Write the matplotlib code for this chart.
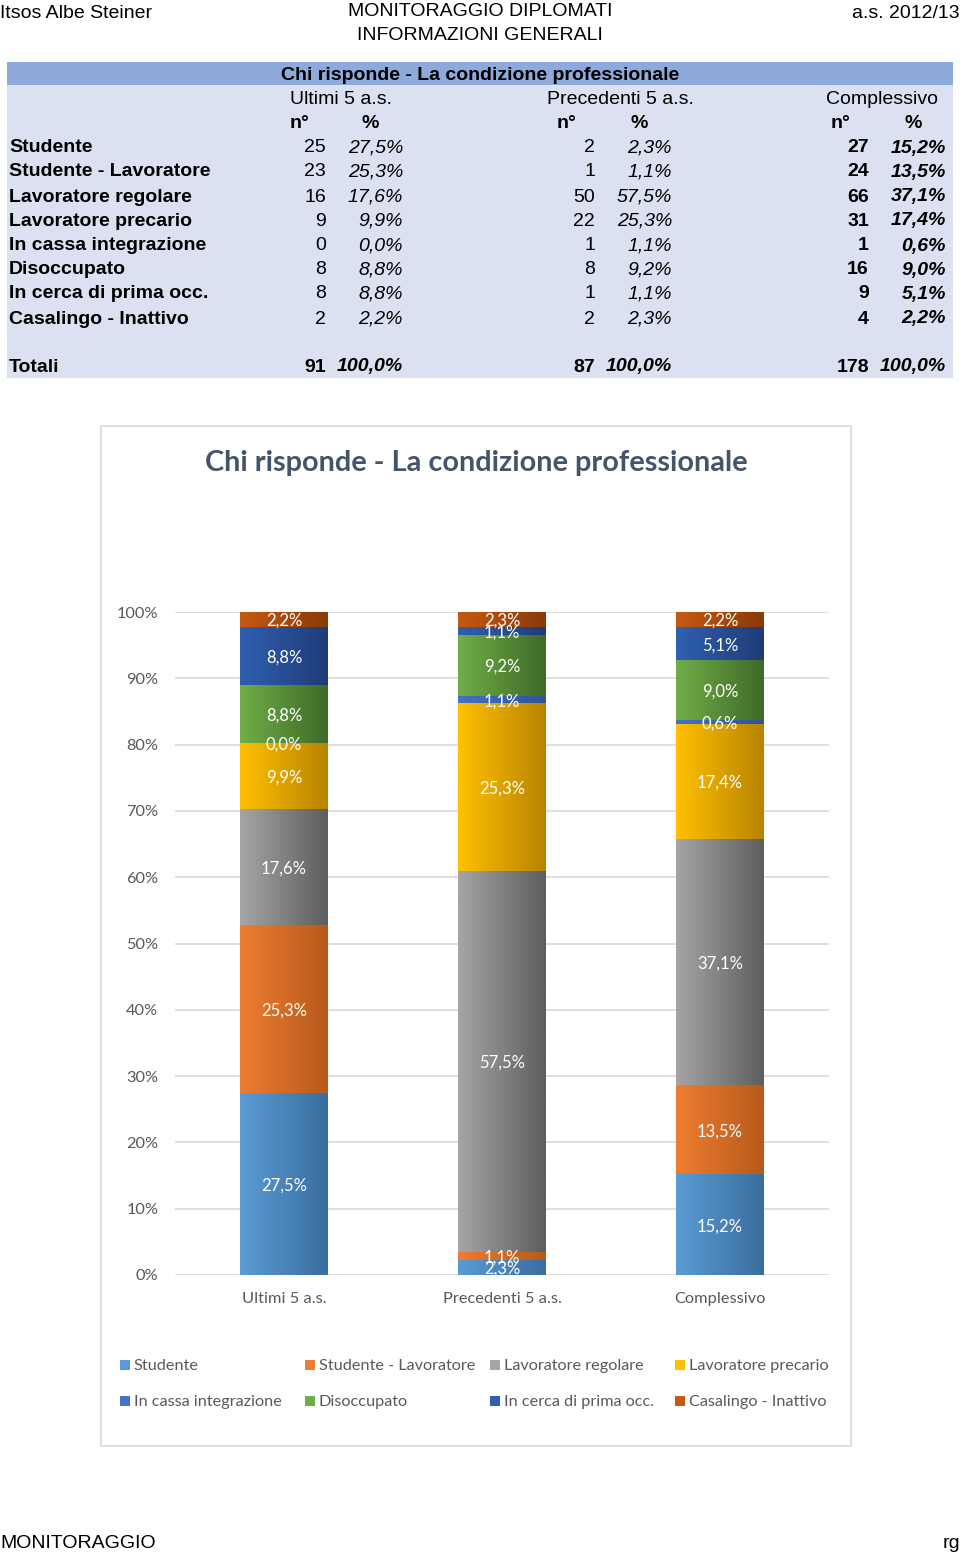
import numpy as np
import matplotlib
matplotlib.use("Agg")
import matplotlib.pyplot as plt
from matplotlib.patches import Rectangle

# ----------------------------
# Dati
# ----------------------------
categorie = ["Studente", "Studente - Lavoratore", "Lavoratore regolare", "Lavoratore precario",
             "In cassa integrazione", "Disoccupato", "In cerca di prima occ.", "Casalingo - Inattivo"]
gruppi = ["Ultimi 5 a.s.", "Precedenti 5 a.s.", "Complessivo"]

n_ultimi = [25, 23, 16, 9, 0, 8, 8, 2]
n_precedenti = [2, 1, 50, 22, 1, 8, 1, 2]
n_complessivo = [27, 24, 66, 31, 1, 16, 9, 4]

pct_ultimi = ["27,5%", "25,3%", "17,6%", "9,9%", "0,0%", "8,8%", "8,8%", "2,2%"]
pct_precedenti = ["2,3%", "1,1%", "57,5%", "25,3%", "1,1%", "9,2%", "1,1%", "2,3%"]
pct_complessivo = ["15,2%", "13,5%", "37,1%", "17,4%", "0,6%", "9,0%", "5,1%", "2,2%"]

totali_n = [91, 87, 178]
totali_pct = ["100,0%", "100,0%", "100,0%"]

# colori (sinistra chiaro, destra scuro come il gradiente di Excel)
colori = ["#5B9BD5", "#ED7D31", "#A5A5A5", "#FFC000", "#4472C4", "#70AD47", "#2F5FB0", "#C55A11"]
colori_scuri = ["#3A6E9E", "#B85A1C", "#5E5E5E", "#B88400", "#2F5597", "#3F6A28", "#1F3C78", "#8A3A08"]

W, H = 960, 1556
fig = plt.figure(figsize=(W / 100, H / 100), dpi=100)

def fx(x):
    return x / W

def fy(y):
    return 1 - y / H

def ftxt(x, y, s, **kw):
    kw.setdefault("family", "Liberation Sans")
    kw.setdefault("va", "center")
    fig.text(fx(x), fy(y + 2), s, **kw)

FS = 14

# ----------------------------
# Intestazione pagina
# ----------------------------
ftxt(0, 11, "Itsos Albe Steiner", fontsize=FS, ha="left")
ftxt(480, 10, "MONITORAGGIO DIPLOMATI", fontsize=FS, ha="center")
ftxt(480, 33, "INFORMAZIONI GENERALI", fontsize=FS, ha="center")
ftxt(960, 11, "a.s. 2012/13", fontsize=FS, ha="right")

# ----------------------------
# Tabella
# ----------------------------
fig.patches.append(Rectangle((fx(7), fy(378)), fx(946), 316 / H, transform=fig.transFigure,
                             facecolor="#DCE1F2", edgecolor="none", zorder=-2))
fig.patches.append(Rectangle((fx(7), fy(85)), fx(946), 23 / H, transform=fig.transFigure,
                             facecolor="#8EAADB", edgecolor="none", zorder=-1))
ftxt(480, 73, "Chi risponde - La condizione professionale", fontsize=FS, weight="bold", ha="center")

col_head = [341, 620, 882]
n_head = [300, 567, 841]
p_head = [370, 639, 913]
n_right = [326, 595, 869]
p_right = [403, 672, 946]
for g, xc, xn, xp in zip(gruppi, col_head, n_head, p_head):
    ftxt(xc, 98, g, fontsize=FS, ha="center")
    ftxt(xn, 122, "n°", fontsize=FS, weight="bold", ha="center")
    ftxt(xp, 122, "%", fontsize=FS, weight="bold", ha="center")

righe_y = [146, 170, 195, 219, 244, 268, 292, 317]
colonne_n = [n_ultimi, n_precedenti, n_complessivo]
colonne_p = [pct_ultimi, pct_precedenti, pct_complessivo]
for i, (cat, y) in enumerate(zip(categorie, righe_y)):
    ftxt(9, y, cat, fontsize=FS, weight="bold", ha="left")
    for k in range(3):
        w = "bold" if k == 2 else "normal"
        ftxt(n_right[k], y, str(colonne_n[k][i]), fontsize=FS, weight=w, ha="right")
        ftxt(p_right[k], y, colonne_p[k][i], fontsize=FS, weight=w, style="italic", ha="right")

ftxt(9, 365, "Totali", fontsize=FS, weight="bold", ha="left")
for k in range(3):
    ftxt(n_right[k], 365, str(totali_n[k]), fontsize=FS, weight="bold", ha="right")
    ftxt(p_right[k], 365, totali_pct[k], fontsize=FS, weight="bold", style="italic", ha="right")

# ----------------------------
# Grafico
# ----------------------------
fig.patches.append(Rectangle((fx(101), fy(1446)), 750 / W, 1020 / H, transform=fig.transFigure,
                             facecolor="white", edgecolor="#D9D9D9", lw=1.2, zorder=-1))
ftxt(476, 461, "Chi risponde - La condizione professionale", family="Lato", fontsize=20.8,
     weight="bold", color="#44546A", ha="center")

ax = fig.add_axes([fx(175), fy(1275), 654 / W, 663 / H])
ax.set_facecolor("none")
x = np.arange(len(gruppi))
larghezza = 0.4
dati = np.array([n_ultimi, n_precedenti, n_complessivo], dtype=float)
quote = dati / dati.sum(axis=1, keepdims=True) * 100
etichette = [pct_ultimi, pct_precedenti, pct_complessivo]

for yv in range(0, 101, 10):
    ax.axhline(yv, color="#D9D9D9", lw=1.2, zorder=0)

base = np.zeros(len(gruppi))
for j, cat in enumerate(categorie):
    bars = ax.bar(x, quote[:, j], larghezza, bottom=base, color=colori[j], label=cat,
                  edgecolor="none", zorder=2)
    c0 = np.array(matplotlib.colors.to_rgb(colori[j]))
    c1 = np.array(matplotlib.colors.to_rgb(colori_scuri[j]))
    t = np.linspace(0, 1, 64)[None, :, None]
    grad = c0 * (1 - t) + c1 * t
    for b in bars:
        if b.get_height() <= 0:
            continue
        im = ax.imshow(grad, extent=[b.get_x(), b.get_x() + b.get_width(),
                                     b.get_y(), b.get_y() + b.get_height()],
                       aspect="auto", zorder=2.5, interpolation="bilinear")
        im.set_clip_path(b)
    for i in range(len(gruppi)):
        ax.text(x[i], base[i] + quote[i, j] / 2, etichette[i][j], ha="center",
                va="center_baseline", color="white", fontsize=12, family="Lato", zorder=4)
    base += quote[:, j]

ax.set_xlim(-0.5, 2.5)
ax.set_ylim(0, 100)
ax.set_yticks(range(0, 101, 10))
ax.set_yticklabels([f"{v}%" for v in range(0, 101, 10)])
ax.set_xticks(x)
ax.set_xticklabels(gruppi)
ax.tick_params(length=0, labelsize=11.8, labelcolor="#595959")
ax.tick_params(axis="y", pad=12)
ax.tick_params(axis="x", pad=12)
for lab in ax.get_xticklabels() + ax.get_yticklabels():
    lab.set_family("Lato")
for s in ax.spines.values():
    s.set_visible(False)

# legenda
leg_x = [120, 305, 490, 675]
leg_y = [1365, 1401]
for j, cat in enumerate(categorie):
    lx = leg_x[j % 4]
    ly = leg_y[j // 4]
    fig.patches.append(Rectangle((fx(lx), fy(ly + 5)), 10 / W, 10 / H, transform=fig.transFigure,
                                 facecolor=colori[j], edgecolor="none", zorder=3))
    ftxt(lx + 14, ly - 1, cat, family="Lato", fontsize=11.7, color="#595959", ha="left")

# ----------------------------
# Piè di pagina
# ----------------------------
ftxt(0, 1541, "MONITORAGGIO", fontsize=FS, ha="left")
ftxt(960, 1541, "rg", fontsize=FS, ha="right")

fig.savefig("out.png", dpi=100)
